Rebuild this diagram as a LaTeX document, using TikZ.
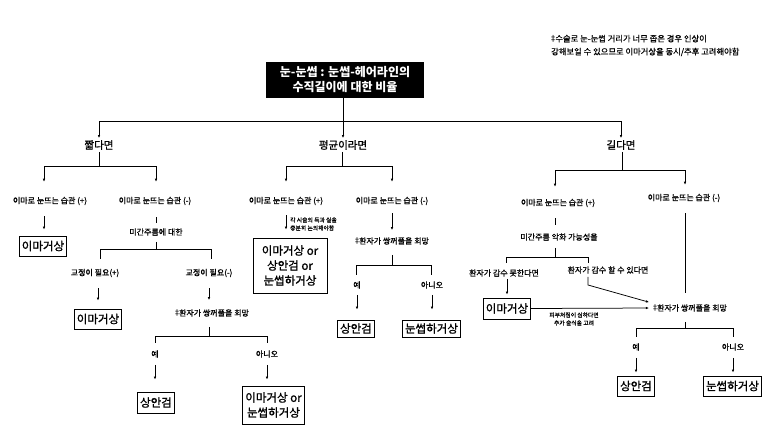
\documentclass[tikz,border=0pt]{standalone}
\usepackage{fontspec}
\setmainfont{Noto Sans CJK KR}
\newfontfamily\medf{Noto Sans CJK KR}[FakeBold=0.7]
\newfontfamily\hdrf{Noto Sans CJK KR}[FakeBold=1.2]
\newfontfamily\symf{DejaVu Sans}
\newcommand{\dg}{{\symf ‡}}
\usetikzlibrary{arrows.meta}
\begin{document}
\begin{tikzpicture}[x=1pt,y=-1pt,
  lbl/.style={inner sep=1pt,font=\medf\fontsize{8}{9.6}\selectfont},
  hdr/.style={inner sep=2pt,font=\hdrf\fontsize{10.5}{12}\selectfont},
  res/.style={draw,line width=0.8pt,inner xsep=2.5pt,inner ysep=2pt,align=center,font=\hdrf\fontsize{11.5}{15}\selectfont},
  tiny/.style={inner sep=0pt,align=left,font=\medf\fontsize{5.8}{8}\selectfont},
  con/.style={line width=0.75pt},
  arr/.style={con,-{Latex[length=3pt,width=2.6pt]}},
]
\useasboundingbox (0,0) rectangle (773,428);

% title and note
\node[fill=black,text=white,minimum width=158pt,minimum height=36pt,inner sep=0pt,align=center,font=\bfseries\fontsize{12}{15}\selectfont] (title) at (345,80) {눈-눈썹 : 눈썹-헤어라인의\\수직길이에 대한 비율};
\node[anchor=west,inner sep=0pt,align=left,font=\medf\fontsize{8.3}{13}\selectfont] (note) at (551,45.5) {\dg 수술로 눈-눈썹 거리가 너무 좁은 경우 인상이\\강해보일 수 있으므로 이마거상을 동시/추후 고려해야함};

% headers
\node[hdr] (short) at (99,145) {짧다면};
\node[hdr] (avg) at (343,145) {평균이라면};
\node[hdr] (long) at (621,145) {길다면};
\coordinate (barL) at (99,121);
\coordinate (barR) at (621,121);
\draw[arr] (title.south -| avg) -- (avg.north);
\draw[con] (barL) -- (barR);
\draw[arr] (barL) -- (short.north);
\draw[arr] (barR) -- (long.north);

% ---------- left branch ----------
\node[lbl] (sp) at (50,201) {이마로 눈뜨는 습관 (+)};
\node[lbl] (sm) at (155,201) {이마로 눈뜨는 습관 (-)};
\node[res,minimum height=20pt] (sb1) at (43,246) {이마거상};
\node[lbl] (sm2) at (156,232) {미간주름에 대한};
\node[lbl] (sc1) at (95,273) {교정이 필요(+)};
\node[lbl] (sc2) at (209,273) {교정이 필요(-)};
\node[res,minimum height=20pt] (sr1) at (98,319) {이마거상};
\node[lbl] (sd1) at (212,313) {\dg 환자가 쌍꺼풀을 희망};
\node[lbl] (sy) at (155,354) {예};
\node[lbl] (sn) at (267,354) {아니오};
\node[res,minimum height=21pt] (sr2) at (156,402.5) {상안검};
\node[res,minimum height=38pt] (sr3) at (273.5,405) {이마거상 or\\눈썹하거상};

\coordinate (sJ) at (99,166);
\coordinate (sL) at (44,166);
\coordinate (sR) at (156,166);
\draw[con] (short.south) -- (sJ);
\draw[con] (sL) -- (sR);
\draw[arr,shorten >=14pt] (sL) -- (sL |- sp.north);
\draw[arr,shorten >=14pt] (sR) -- (sR |- sm.north);
\draw[arr,shorten <=10pt,shorten >=6pt] (sp.south -| sL) -- (sL |- sb1.north);
\draw[con,shorten <=11pt,shorten >=4pt] (sm.south -| sR) -- (sR |- sm2.north);
\coordinate (smJ) at (156,249);
\coordinate (smL) at (100,249);
\coordinate (smR) at (211,249);
\draw[con,shorten <=5pt] (sm2.south -| smJ) -- (smJ);
\draw[con] (smL) -- (smR);
\draw[con,shorten >=9pt] (smL) -- (smL |- sc1.north);
\draw[con,shorten >=9pt] (smR) -- (smR |- sc2.north);
\draw[arr,shorten <=10pt,shorten >=8pt] (sc1.south -| sr1) -- (sr1.north);
\draw[arr,shorten <=10pt,shorten >=8pt] (sc2.south) -- (sc2.south |- sd1.north);
\coordinate (sdJ) at (209,336);
\coordinate (sdL) at (155,336);
\coordinate (sdR) at (267,336);
\draw[con,shorten <=9pt] (sd1.south -| sdJ) -- (sdJ);
\draw[con] (sdL) -- (sdR);
\draw[con,shorten >=6pt] (sdL) -- (sdL |- sy.north);
\draw[con,shorten >=6pt] (sdR) -- (sdR |- sn.north);
\draw[arr,shorten <=6pt,shorten >=12pt] (sy.south) -- (sy.south |- sr2.north);
\draw[arr,shorten <=6pt,shorten >=6pt] (sn.south) -- (sn.south |- sr3.north);

% ---------- middle branch ----------
\node[lbl] (mp) at (286,201) {이마로 눈뜨는 습관 (+)};
\node[lbl] (mm) at (392,201) {이마로 눈뜨는 습관 (-)};
\node[res,minimum width=74pt,minimum height=55pt] (mr1) at (290,265.5) {이마거상 or\\상안검 or\\눈썹하거상};
\node[tiny,anchor=west] (mnote) at (290,224) {각 시술의 득과 실을\\충분히 논의해야함};
\node[lbl] (md) at (392,241) {\dg 환자가 쌍꺼풀을 희망};
\node[lbl] (my) at (357,285) {예};
\node[lbl] (mn) at (432,285) {아니오};
\node[res,minimum height=17pt,inner ysep=1pt] (mr2) at (356,328.5) {상안검};
\node[res,minimum height=17pt,inner ysep=1pt] (mr3) at (431.5,328.5) {눈썹하거상};

\coordinate (mJ) at (342,166);
\coordinate (mL) at (286,166);
\coordinate (mR) at (392,166);
\draw[con] (avg.south -| mJ) -- (mJ);
\draw[con] (mL) -- (mR);
\draw[arr,shorten >=14pt] (mL) -- (mL |- mp.north);
\draw[arr,shorten >=14pt] (mR) -- (mR |- mm.north);
\draw[arr,shorten <=9pt,shorten >=8pt] (mp.south) -- (mp.south |- mr1.north);
\draw[arr,shorten <=7pt,shorten >=6pt] (mm.south) -- (mm.south |- md.north);
\coordinate (mdJ) at (392,265);
\coordinate (mdL) at (356,265);
\coordinate (mdR) at (431,265);
\draw[con,shorten <=9pt] (md.south -| mdJ) -- (mdJ);
\draw[con] (mdL) -- (mdR);
\draw[con,shorten >=5pt] (mdL) -- (mdL |- my.north);
\draw[con,shorten >=5pt] (mdR) -- (mdR |- mn.north);
\draw[arr,shorten <=5pt,shorten >=10pt] (my.south) -- (my.south |- mr2.north);
\draw[arr,shorten <=5pt,shorten >=10pt] (mn.south) -- (mn.south |- mr3.north);

% ---------- right branch ----------
\node[lbl] (lp) at (558,203) {이마로 눈뜨는 습관 (+)};
\node[lbl] (lm) at (684,198) {이마로 눈뜨는 습관 (-)};
\node[lbl] (lp2) at (559,237) {미간주름 악화 가능성을};
\node[lbl] (lc1) at (504,273) {환자가 감수 못한다면};
\node[lbl] (lc2) at (608,270) {환자가 감수 할 수 있다면};
\node[res,minimum height=21pt] (lr1) at (507,308.5) {이마거상};
\node[lbl] (ld) at (690,308) {\dg 환자가 쌍꺼풀을 희망};
\node[tiny,align=center] (lnote) at (574,319) {피부처짐이 심하다면\\추가 술식을 고려};
\node[lbl] (ly) at (636,347) {예};
\node[lbl] (ln) at (733,347) {아니오};
\node[res,minimum height=20pt] (lr2) at (636,386) {상안검};
\node[res,minimum height=20pt] (lr3) at (732.5,386) {눈썹하거상};

\coordinate (lJ) at (622,170);
\coordinate (lL) at (555,170);
\coordinate (lR) at (685,170);
\draw[con] (long.south -| lJ) -- (lJ);
\draw[con] (lL) -- (lR);
\draw[arr,shorten >=11pt] (lL) -- (lL |- lp.north);
\draw[arr,shorten >=8pt] (lR) -- (lR |- lm.north);
\draw[con,shorten <=10pt,shorten >=7pt] (lp.south -| lL) -- (lL |- lp2.north);
\coordinate (lpJ) at (555,257);
\coordinate (lpL) at (506,257);
\coordinate (lpR) at (588,257);
\draw[con,shorten <=6pt] (lp2.south -| lpJ) -- (lpJ);
\draw[con] (lpL) -- (lpR);
\draw[con,shorten >=5pt] (lpL) -- (lpL |- lc1.north);
\draw[con,shorten >=2pt] (lpR) -- (lpR |- lc2.north);
\draw[arr,shorten <=1pt,shorten >=3pt] (lc1.south -| lr1) -- (lr1.north);
\coordinate (lbend) at (588,285);
\draw[arr,shorten <=2pt,shorten >=3pt] (lc2.south -| lbend) -- (lbend) -- ([yshift=5pt]ld.west);
\draw[arr,shorten >=3pt] (lr1.east) -- (ld.west);
\draw[con,shorten <=10pt,shorten >=10pt] (lm.south -| lR) -- (lR |- ld.north);
\coordinate (ldJ) at (685,328);
\coordinate (ldL) at (636,328);
\coordinate (ldR) at (733,328);
\draw[con,shorten <=9pt] (ld.south -| ldJ) -- (ldJ);
\draw[con] (ldL) -- (ldR);
\draw[con,shorten >=5pt] (ldL) -- (ldL |- ly.north);
\draw[con,shorten >=5pt] (ldR) -- (ldR |- ln.north);
\draw[arr,shorten <=6pt,shorten >=3pt] (ly.south) -- (ly.south |- lr2.north);
\draw[arr,shorten <=6pt,shorten >=3pt] (ln.south) -- (ln.south |- lr3.north);
\end{tikzpicture}
\end{document}
